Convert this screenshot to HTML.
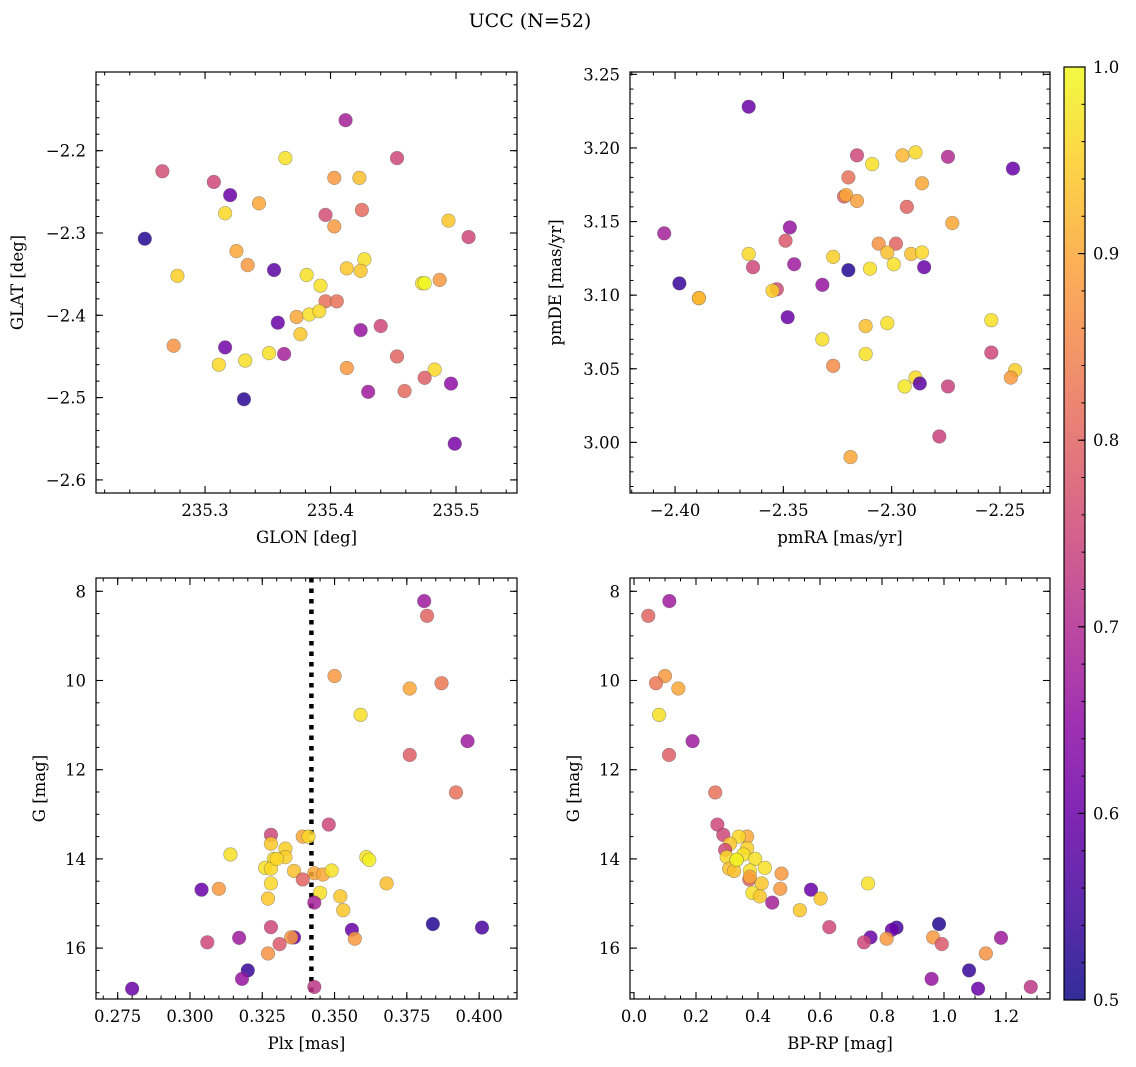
<!DOCTYPE html>
<html><head><meta charset="utf-8"><style>
html,body{margin:0;padding:0;background:#fff;}
svg{display:block;font-family:"DejaVu Serif","Liberation Serif",serif;}
</style></head><body>
<svg id="fig" width="1136" height="1067" viewBox="0 0 1136 1067">
<text x="530" y="27" font-size="19" text-anchor="middle">UCC (N=52)</text>
</svg>
<script>
// ---- Panel 1: GLON / GLAT ----
const glon=[235.412,235.364,235.453,235.266,235.307,235.403,235.423,235.320,235.343,235.316,235.396,235.425,235.403,235.494,235.510,235.252,235.325,235.334,235.355,235.278,235.381,235.392,235.413,235.427,235.424,235.473,235.475,235.487,235.396,235.405,235.373,235.383,235.391,235.358,235.424,235.440,235.376,235.275,235.316,235.311,235.332,235.351,235.363,235.413,235.453,235.483,235.475,235.496,235.430,235.459,235.331,235.499];
const glat=[-2.163,-2.209,-2.209,-2.225,-2.238,-2.233,-2.233,-2.254,-2.264,-2.276,-2.278,-2.272,-2.292,-2.285,-2.305,-2.307,-2.322,-2.339,-2.345,-2.352,-2.351,-2.364,-2.343,-2.332,-2.346,-2.361,-2.361,-2.357,-2.383,-2.383,-2.402,-2.399,-2.395,-2.409,-2.418,-2.413,-2.423,-2.437,-2.439,-2.460,-2.455,-2.446,-2.447,-2.464,-2.450,-2.466,-2.476,-2.483,-2.493,-2.492,-2.502,-2.556];
const prob1=[0.68,0.97,0.75,0.76,0.75,0.88,0.93,0.6,0.9,0.96,0.76,0.81,0.88,0.94,0.75,0.52,0.9,0.88,0.58,0.95,0.97,0.97,0.94,0.97,0.94,0.97,1.0,0.88,0.82,0.82,0.9,0.97,0.96,0.6,0.66,0.75,0.94,0.87,0.61,0.96,0.97,0.97,0.68,0.88,0.8,0.96,0.79,0.65,0.67,0.81,0.53,0.62];
// ---- Panel 2: pmRA / pmDE ----
const pmra=[-2.366,-2.316,-2.309,-2.295,-2.289,-2.274,-2.244,-2.320,-2.286,-2.322,-2.321,-2.316,-2.293,-2.272,-2.405,-2.347,-2.349,-2.306,-2.298,-2.366,-2.327,-2.302,-2.291,-2.286,-2.364,-2.345,-2.320,-2.310,-2.299,-2.285,-2.398,-2.389,-2.353,-2.355,-2.332,-2.348,-2.312,-2.302,-2.254,-2.332,-2.312,-2.327,-2.254,-2.243,-2.245,-2.289,-2.287,-2.294,-2.274,-2.278,-2.319,-2.389];
const pmde=[3.228,3.195,3.189,3.195,3.197,3.194,3.186,3.180,3.176,3.167,3.168,3.164,3.160,3.149,3.142,3.146,3.137,3.135,3.135,3.128,3.126,3.129,3.128,3.129,3.119,3.121,3.117,3.118,3.121,3.119,3.108,3.098,3.104,3.103,3.107,3.085,3.079,3.081,3.083,3.070,3.060,3.052,3.061,3.049,3.044,3.044,3.040,3.038,3.038,3.004,2.990,3.098];
const prob2=[0.6,0.75,0.97,0.92,0.96,0.7,0.6,0.82,0.9,0.8,0.9,0.89,0.8,0.9,0.68,0.66,0.78,0.87,0.8,0.96,0.95,0.93,0.93,0.96,0.75,0.67,0.52,0.97,0.97,0.6,0.54,0.92,0.76,0.95,0.66,0.6,0.93,0.97,0.97,0.97,0.97,0.86,0.75,0.95,0.88,0.96,0.58,0.98,0.74,0.74,0.9,0.92];
// ---- Panel 3: Plx / G ----
const plx=[0.381,0.382,0.350,0.376,0.387,0.359,0.396,0.376,0.392,0.348,0.328,0.339,0.341,0.328,0.333,0.314,0.329,0.333,0.361,0.362,0.326,0.328,0.336,0.343,0.346,0.349,0.339,0.328,0.368,0.304,0.310,0.345,0.352,0.327,0.343,0.353,0.384,0.401,0.328,0.356,0.357,0.336,0.335,0.317,0.306,0.331,0.327,0.320,0.318,0.280,0.343,0.330];
const gmag3=[8.22,8.55,9.90,10.18,10.06,10.77,11.36,11.67,12.51,13.23,13.46,13.50,13.50,13.66,13.77,13.90,14.00,13.96,13.96,14.02,14.20,14.22,14.27,14.32,14.35,14.26,14.46,14.55,14.55,14.69,14.67,14.76,14.84,14.89,14.98,15.15,15.46,15.54,15.53,15.59,15.79,15.76,15.76,15.77,15.87,15.91,16.12,16.50,16.69,16.91,16.87,14.00];
const prob3=[0.67,0.8,0.88,0.9,0.83,0.97,0.67,0.79,0.82,0.75,0.75,0.9,0.96,0.94,0.95,0.97,0.96,0.95,0.97,0.99,0.97,0.96,0.93,0.9,0.9,0.97,0.8,0.96,0.93,0.6,0.88,0.97,0.94,0.94,0.68,0.94,0.52,0.56,0.75,0.6,0.88,0.6,0.88,0.67,0.75,0.78,0.87,0.54,0.66,0.6,0.72,0.96];
const plxLine=0.342;
// ---- Panel 4: BP-RP / G ----
const bprp=[0.114,0.046,0.100,0.071,0.143,0.081,0.189,0.113,0.262,0.269,0.288,0.365,0.338,0.310,0.365,0.294,0.353,0.299,0.391,0.331,0.422,0.307,0.323,0.374,0.476,0.372,0.374,0.412,0.755,0.571,0.472,0.382,0.406,0.602,0.446,0.535,0.984,0.847,0.630,0.832,0.815,0.763,0.965,1.184,0.742,0.993,1.135,1.081,0.960,1.110,1.280,0.331];
const gmag4=[8.22,8.55,9.90,10.06,10.18,10.77,11.36,11.67,12.51,13.23,13.46,13.50,13.50,13.66,13.76,13.80,13.90,13.96,14.00,14.02,14.20,14.22,14.27,14.26,14.33,14.46,14.40,14.55,14.55,14.69,14.67,14.76,14.84,14.89,14.98,15.15,15.46,15.54,15.53,15.59,15.79,15.76,15.76,15.77,15.87,15.91,16.12,16.50,16.69,16.91,16.87,14.02];
const prob4=[0.67,0.8,0.88,0.83,0.9,0.97,0.67,0.79,0.82,0.75,0.75,0.9,0.96,0.94,0.95,0.75,0.97,0.96,0.97,0.99,0.97,0.93,0.93,0.97,0.88,0.8,0.9,0.94,0.97,0.6,0.88,0.97,0.94,0.94,0.68,0.94,0.52,0.56,0.75,0.6,0.88,0.6,0.88,0.67,0.75,0.78,0.87,0.54,0.66,0.6,0.72,0.99];
// ticks
const ticks1x=[235.3,235.4,235.5], ticks1y=[-2.2,-2.3,-2.4,-2.5,-2.6];
const ticks2x=[-2.40,-2.35,-2.30,-2.25], ticks2y=[3.00,3.05,3.10,3.15,3.20,3.25];
const ticks3x=[0.275,0.300,0.325,0.350,0.375,0.400], ticksG=[8,10,12,14,16];
const ticks4x=[0.0,0.2,0.4,0.6,0.8,1.0,1.2];
const cbTicks=[0.5,0.6,0.7,0.8,0.9,1.0];

const NS="http://www.w3.org/2000/svg";
const svg=document.getElementById('fig');
function mk(tag,attrs,parent){const e=document.createElementNS(NS,tag);for(const k in attrs)e.setAttribute(k,attrs[k]);(parent||svg).appendChild(e);return e;}
const stops=[[13,8,135],[65,4,157],[106,0,168],[143,13,164],[177,42,144],[204,71,120],[225,100,98],[242,132,75],[252,166,54],[252,206,37],[240,249,33]];
function plasma(t){t=Math.max(0,Math.min(1,t));const f=t*10,i=Math.min(9,Math.floor(f)),r=f-i;const a=stops[i],b=stops[i+1];return 'rgb('+[0,1,2].map(k=>Math.round(a[k]+(b[k]-a[k])*r)).join(',')+')';}
function cmap(v){return plasma((v-0.5)/0.5);}
function fmt(v,d){return (v<0?'\u2212':'')+Math.abs(v).toFixed(d);}
const TFS=16.5, LFS=16.5;

function panel(cfg){
  const {x0,y0,w,h,xlim,ylim,name}=cfg;
  const sx=v=>x0+(v-xlim[0])/(xlim[1]-xlim[0])*w;
  const sy=v=>y0+(ylim[1]-v)/(ylim[1]-ylim[0])*h;
  const g=mk('g',{});
  
  
  const mt=(lim,step)=>{const a=[];let s=Math.ceil(lim[0]/step-1e-6);for(let k=s;k*step<=lim[1]+1e-9;k++)a.push(k*step);return a;};
  mt(xlim,cfg.xminor).forEach(v=>{const x=sx(v);mk('line',{x1:x,x2:x,y1:y0+h,y2:y0+h-3.5,stroke:'#000','stroke-width':1},g);mk('line',{x1:x,x2:x,y1:y0,y2:y0+3.5,stroke:'#000','stroke-width':1},g);});
  mt([Math.min(...ylim),Math.max(...ylim)],cfg.yminor).forEach(v=>{const y=sy(v);mk('line',{x1:x0,x2:x0+3.5,y1:y,y2:y,stroke:'#000','stroke-width':1},g);mk('line',{x1:x0+w,x2:x0+w-3.5,y1:y,y2:y,stroke:'#000','stroke-width':1},g);});
  cfg.xt.forEach(v=>{const x=sx(v);mk('line',{x1:x,x2:x,y1:y0+h,y2:y0+h-7,stroke:'#000','stroke-width':1.1},g);mk('line',{x1:x,x2:x,y1:y0,y2:y0+7,stroke:'#000','stroke-width':1.1},g);
    const t=mk('text',{x:x,y:y0+h+23,'font-size':TFS,'text-anchor':'middle'},g);t.textContent=fmt(v,cfg.xd);
    
    });
  cfg.yt.forEach(v=>{const y=sy(v);mk('line',{x1:x0,x2:x0+7,y1:y,y2:y,stroke:'#000','stroke-width':1.1},g);mk('line',{x1:x0+w,x2:x0+w-7,y1:y,y2:y,stroke:'#000','stroke-width':1.1},g);
    const t=mk('text',{x:x0-10,y:y+6,'font-size':TFS,'text-anchor':'end'},g);t.textContent=fmt(v,cfg.yd);
    
    });
  if(cfg.vline!==undefined){const x=sx(cfg.vline);const l=mk('line',{x1:x,x2:x,y1:y0,y2:y0+h,stroke:'#000','stroke-width':4.5,'stroke-dasharray':'4.5 6'},g);
    
    }
  const xs=cfg.xs,ys=cfg.ys,cs=cfg.cs;
  xs.forEach((v,i)=>{const c=mk('circle',{cx:sx(v),cy:sy(ys[i]),r:6.8,fill:cmap(cs[i]),'fill-opacity':0.85,stroke:'#555','stroke-opacity':0.5,'stroke-width':0.6},g);
    
    });
  mk('rect',{x:x0,y:y0,width:w,height:h,fill:'none',stroke:'#000','stroke-width':1.2},g);
  const xl=mk('text',{x:x0+w/2,y:y0+h+50,'font-size':LFS,'text-anchor':'middle'},g);xl.textContent=cfg.xlabel;
  
  
  const yx=cfg.ylx;const yl=mk('text',{x:yx,y:y0+h/2,'font-size':LFS,'text-anchor':'middle',transform:'rotate(-90 '+yx+' '+(y0+h/2)+')'},g);yl.textContent=cfg.ylabel;
  
  
}
panel({name:'glon-glat-panel',x0:96,y0:72,w:421,h:421,xlim:[235.2131,235.5486],ylim:[-2.6159,-2.1044],xt:ticks1x,yt:ticks1y,xd:1,yd:1,xminor:0.02,yminor:0.02,xs:glon,ys:glat,cs:prob1,xlabel:'GLON [deg]',ylabel:'GLAT [deg]',ylx:23});
panel({name:'proper-motion-panel',x0:630,y0:72,w:420,h:421,xlim:[-2.4208,-2.2269],ylim:[2.9656,3.2516],xt:ticks2x,yt:ticks2y,xd:2,yd:2,xminor:0.01,yminor:0.01,xs:pmra,ys:pmde,cs:prob2,xlabel:'pmRA [mas/yr]',ylabel:'pmDE [mas/yr]',ylx:561});
panel({name:'plx-g-panel',x0:96,y0:578,w:421,h:421,xlim:[0.2675,0.4131],ylim:[-17.141,-7.702],xt:ticks3x,yt:ticksG.map(v=>-v),xd:3,yd:0,xminor:0.005,yminor:0.5,xs:plx,ys:gmag3.map(v=>-v),cs:prob3,xlabel:'Plx [mas]',ylabel:'G [mag]',ylx:45,vline:plxLine});
panel({name:'cmd-panel',x0:630,y0:578,w:420,h:421,xlim:[-0.0129,1.342],ylim:[-17.141,-7.702],xt:ticks4x,yt:ticksG.map(v=>-v),xd:1,yd:0,xminor:0.05,yminor:0.5,xs:bprp,ys:gmag4.map(v=>-v),cs:prob4,xlabel:'BP-RP [mag]',ylabel:'G [mag]',ylx:579});
document.querySelectorAll('text').forEach(t=>{if(/^\u2212\d+$/.test(t.textContent))t.textContent=t.textContent.slice(1);});
// colorbar
const cb=mk('g',{});


const defs=mk('defs',{});const lg=mk('linearGradient',{id:'cbg',x1:0,y1:1,x2:0,y2:0},defs);
for(let i=0;i<=20;i++){mk('stop',{offset:(i/20),'stop-color':plasma(i/20),'stop-opacity':0.85},lg);}
const cbx=1064,cby=67,cbw=21,cbh=933;
mk('rect',{x:cbx,y:cby,width:cbw,height:cbh,fill:'url(#cbg)'},cb);
mk('rect',{x:cbx,y:cby,width:cbw,height:cbh,fill:'none',stroke:'#000','stroke-width':1.2},cb);
const cy=v=>cby+(1.0-v)/0.5*cbh;
for(let v=0.5;v<=1.0001;v+=0.02){mk('line',{x1:cbx+cbw,x2:cbx+cbw-3.5,y1:cy(v),y2:cy(v),stroke:'#000','stroke-width':1},cb);}
cbTicks.forEach(v=>{mk('line',{x1:cbx+cbw,x2:cbx+cbw-7,y1:cy(v),y2:cy(v),stroke:'#000','stroke-width':1.1},cb);
  const t=mk('text',{x:cbx+cbw+8,y:cy(v)+6,'font-size':TFS},cb);t.textContent=v.toFixed(1);
  
  });
</script>
</body></html>
